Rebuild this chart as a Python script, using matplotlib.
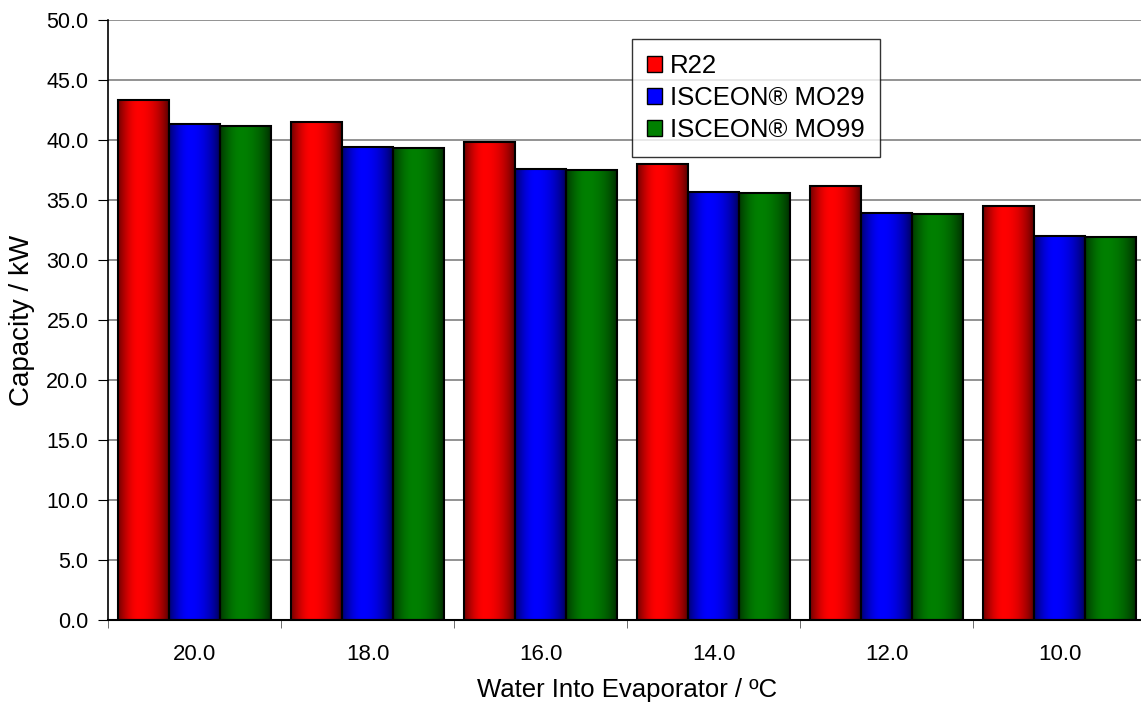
#!/usr/bin/env python3
"""Capacity vs water temperature into evaporator - grouped bar chart"""

import numpy as np
import matplotlib
matplotlib.use("Agg")
import matplotlib.pyplot as plt
from matplotlib.colors import to_rgb
from matplotlib.patches import Rectangle

# Data
temperatures = ["20.0", "18.0", "16.0", "14.0", "12.0", "10.0"]
series_names = ["R22", "ISCEON® MO29", "ISCEON® MO99"]
r22 = [43.3, 41.5, 39.8, 38.0, 36.2, 34.5]
mo29 = [41.3, 39.4, 37.6, 35.7, 33.9, 32.0]
mo99 = [41.2, 39.3, 37.5, 35.6, 33.8, 31.9]
series_values = [r22, mo29, mo99]
series_colors = ["#FF0000", "#0000FF", "#008000"]

plt.rcParams['font.family'] = ['Liberation Sans', 'DejaVu Sans']
plt.rcParams['font.size'] = 16


def gradient_image(color):
    """Horizontal shading: dark at the edges, bright near the middle"""
    t = np.linspace(0, 1, 200)
    # brightness profile, peak a little left of centre
    prof = np.where(t < 0.4, 0.45 + 0.55 * np.sin(np.pi / 2 * t / 0.4),
                    0.25 + 0.75 * np.cos(np.pi / 2 * (t - 0.4) / 0.6) ** 0.7)
    prof = np.clip(prof, 0, 1)
    rgb = np.array(to_rgb(color))
    img = prof[:, None] * rgb[None, :]
    return img[None, :, :]


fig = plt.figure(figsize=(11.41, 7.02), dpi=100)
ax = fig.add_axes([108 / 1141, 82 / 702, 1038 / 1141, 600 / 702])

x = np.arange(len(temperatures))
width = 0.295
offsets = [-width, 0, width]

for values, off, color in zip(series_values, offsets, series_colors):
    bars = ax.bar(x + off, values, width, color='none', edgecolor='black',
                  linewidth=1.5, zorder=3)
    img = gradient_image(color)
    for b in bars:
        x0, w, h = b.get_x(), b.get_width(), b.get_height()
        im = ax.imshow(img, extent=[x0, x0 + w, 0, h], aspect='auto',
                       zorder=2, interpolation='bilinear')
        im.set_clip_path(b)

ax.set_xlim(-0.5, len(temperatures) - 0.5)
ax.set_ylim(0, 50)
ax.set_yticks(np.arange(0, 50.1, 5))
ax.set_yticklabels([f"{v:.1f}" for v in np.arange(0, 50.1, 5)], fontsize=15.5)
ax.set_xticks(x)
ax.set_xticklabels(temperatures, fontsize=16)
ax.set_xticks(np.arange(-0.5, len(temperatures), 1), minor=True)
ax.tick_params(axis='x', which='major', length=0, pad=17)
ax.tick_params(axis='x', which='minor', length=6, direction='out', color='#555555')
ax.tick_params(axis='y', length=7, direction='out', pad=7)

ax.grid(axis='y', color='#808080', linewidth=1.2, zorder=1)
ax.set_axisbelow(True)
for side in ['top', 'right']:
    ax.spines[side].set_visible(False)
ax.spines['left'].set_linewidth(1.2)
ax.spines['bottom'].set_linewidth(1.5)

ax.set_xlabel("Water Into Evaporator / ºC", fontsize=18.5, labelpad=10)
ax.set_ylabel("Capacity / kW", fontsize=20, labelpad=8)

handles = [Rectangle((0, 0), 1, 1, facecolor=c, edgecolor='black', linewidth=1)
           for c in series_colors]
leg = ax.legend(handles, series_names, loc='upper left',
                bbox_to_anchor=((632 - 108) / 1038, (620 - 39) / 600),
                frameon=True, fancybox=False, edgecolor='black',
                handlelength=0.58, handleheight=0.58, handletextpad=0.3,
                borderpad=0.6, borderaxespad=0, labelspacing=0.3, fontsize=18.5)
leg.get_frame().set_linewidth(1.0)
leg.set_zorder(5)

plt.savefig("out.png", dpi=100)
plt.close()
